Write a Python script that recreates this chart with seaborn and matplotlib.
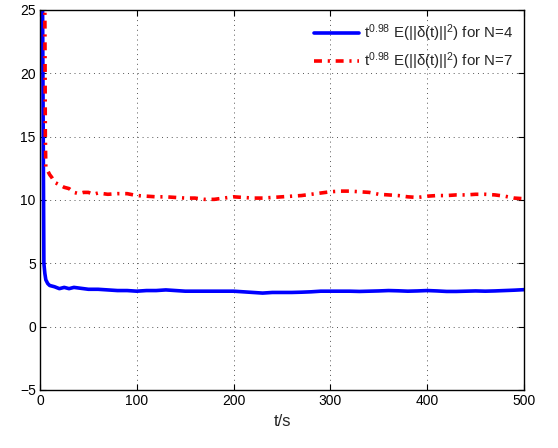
import numpy as np
import pandas as pd
import matplotlib
matplotlib.use("Agg")
import matplotlib.pyplot as plt
import seaborn as sns

# Time samples (s) and scaled mean-square error for the two network sizes
t_n4 = [0, 2, 4, 5, 6, 8, 10, 15, 20, 25, 30, 35, 40, 50, 60, 70, 80, 90, 100,
        110, 120, 130, 140, 150, 160, 170, 180, 190, 200, 210, 220, 230, 240,
        250, 260, 270, 280, 290, 300, 310, 320, 330, 340, 350, 360, 370, 380,
        390, 400, 410, 420, 430, 440, 450, 460, 470, 480, 490, 500]
e_n4 = [60, 35, 5.0, 4.2, 3.7, 3.4, 3.25, 3.15, 3.0, 3.1, 3.0, 3.1, 3.05, 2.95,
        2.95, 2.9, 2.85, 2.85, 2.8, 2.85, 2.85, 2.9, 2.85, 2.8, 2.8, 2.8, 2.8,
        2.8, 2.8, 2.75, 2.7, 2.65, 2.7, 2.7, 2.7, 2.72, 2.75, 2.8, 2.8, 2.8,
        2.8, 2.78, 2.8, 2.82, 2.85, 2.83, 2.8, 2.82, 2.85, 2.82, 2.78, 2.78,
        2.8, 2.82, 2.8, 2.82, 2.85, 2.88, 2.92]

t_n7 = [0, 3, 5, 5.5, 6, 7, 8, 10, 12, 15, 20, 25, 30, 35, 40, 45, 50, 55, 60,
        70, 80, 90, 100, 110, 120, 130, 140, 150, 160, 170, 180, 190, 200, 210,
        220, 230, 240, 250, 260, 270, 280, 290, 300, 310, 320, 330, 340, 350,
        360, 370, 380, 390, 400, 410, 420, 430, 440, 450, 460, 470, 480, 490,
        500]
e_n7 = [60, 40, 25, 15, 12.6, 12.4, 12.3, 12.0, 11.8, 11.4, 11.2, 11.0, 10.9,
        10.6, 10.5, 10.6, 10.6, 10.45, 10.55, 10.45, 10.5, 10.5, 10.35, 10.3,
        10.25, 10.25, 10.2, 10.15, 10.15, 10.05, 10.05, 10.15, 10.25, 10.2,
        10.15, 10.15, 10.2, 10.25, 10.3, 10.35, 10.45, 10.55, 10.65, 10.7,
        10.7, 10.65, 10.6, 10.45, 10.4, 10.35, 10.25, 10.2, 10.3, 10.35, 10.35,
        10.4, 10.4, 10.45, 10.45, 10.4, 10.3, 10.15, 10.1]

x_ticks = [0, 100, 200, 300, 400, 500]
y_ticks = [-5, 0, 5, 10, 15, 20, 25]

sns.set_theme(style="ticks")
plt.rcParams["font.family"] = ["Liberation Sans", "DejaVu Sans"]
plt.rcParams["mathtext.fontset"] = "custom"
plt.rcParams["mathtext.rm"] = "Liberation Sans"
plt.rcParams["mathtext.it"] = "Liberation Sans:italic"
plt.rcParams["mathtext.bf"] = "Liberation Sans:bold"
plt.rcParams["mathtext.default"] = "regular"

lab4 = r"t$^{0.98}$ E(||δ(t)||$^{2}$) for N=4"
lab7 = r"t$^{0.98}$ E(||δ(t)||$^{2}$) for N=7"

df4 = pd.DataFrame({"t": t_n4, "e": e_n4})
df7 = pd.DataFrame({"t": t_n7, "e": e_n7})

fig = plt.figure(figsize=(5.58, 4.48), dpi=100)
ax = fig.add_axes([0.0717, 0.1295, 0.8674, 0.8482])

sns.lineplot(data=df4, x="t", y="e", ax=ax, color="#0000ff", lw=2.6,
             label=lab4)
sns.lineplot(data=df7, x="t", y="e", ax=ax, color="#ff0000", lw=2.6,
             label=lab7, linestyle=(0, (2.2, 1.6, 0.6, 1.6)))

ax.set_xlim(0, 500)
ax.set_ylim(-5, 25)
ax.set_xticks(x_ticks)
ax.set_yticks(y_ticks)
ax.grid(True, color="#555555", linestyle=(0, (1, 4)), linewidth=0.7)
for s in ax.spines.values():
    s.set_color("black")
    s.set_linewidth(1.0)
ax.tick_params(direction="in", top=True, right=True, length=4, width=0.8,
               labelsize=10, colors="black", pad=3)
ax.set_xlabel("t/s", fontsize=12, labelpad=4)
ax.set_ylabel("")

leg = ax.legend(loc="upper right", fontsize=10.8, frameon=False,
                bbox_to_anchor=(1.0, 0.995), borderaxespad=0.3,
                handlelength=3.0, labelspacing=0.42, handletextpad=0.35)

fig.savefig("out.png", dpi=100)
